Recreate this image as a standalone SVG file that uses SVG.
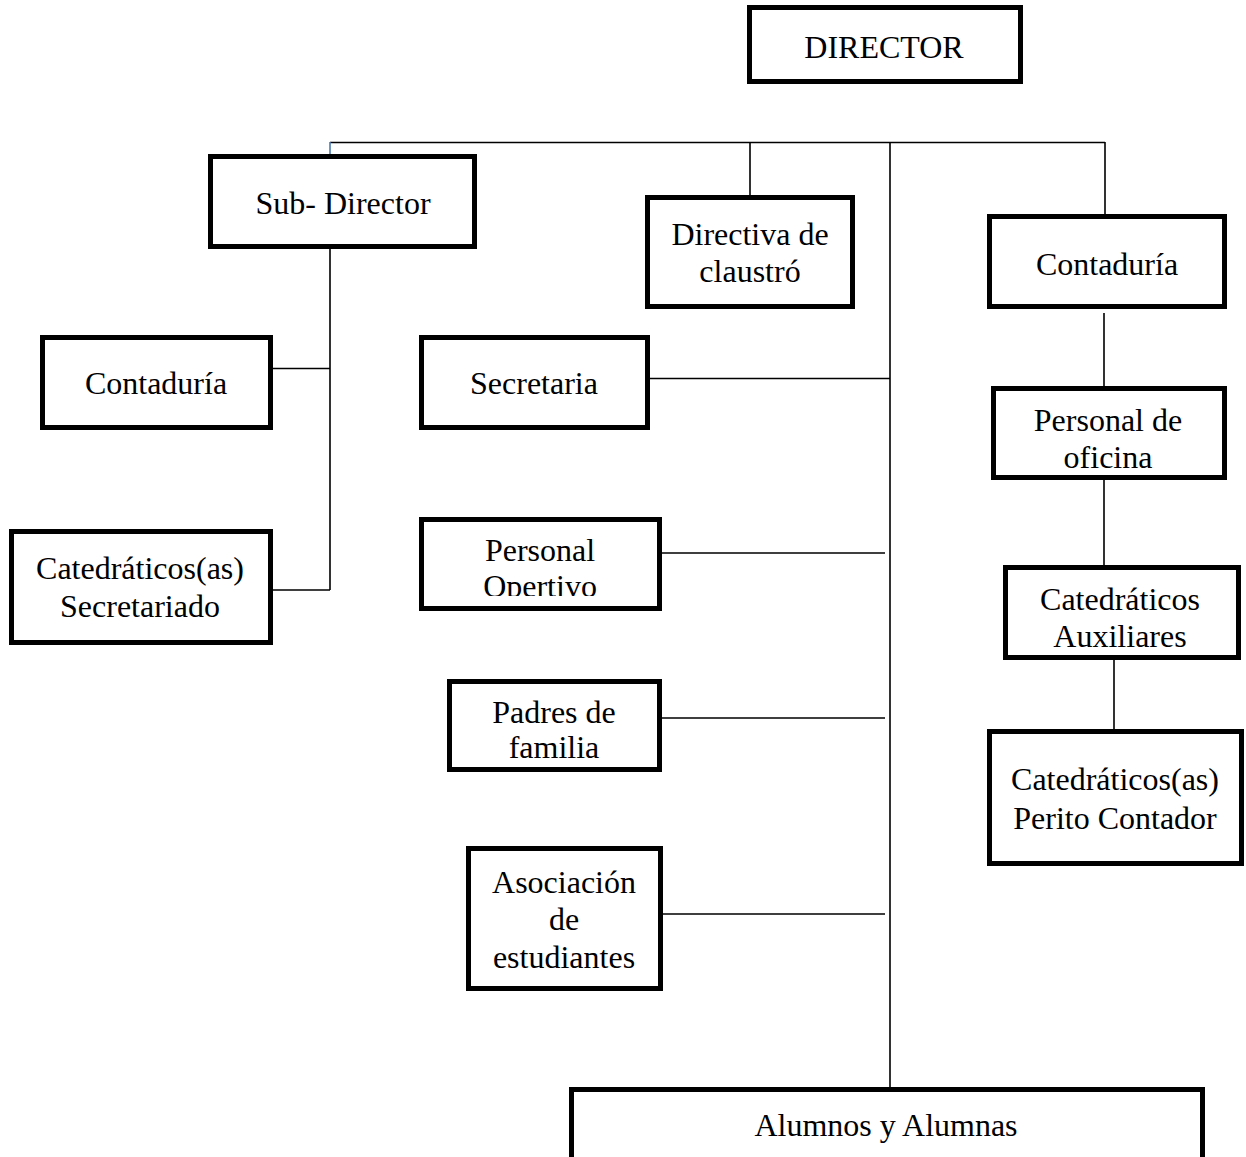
<svg xmlns="http://www.w3.org/2000/svg" width="1246" height="1157" viewBox="0 0 1246 1157">
<style>
.box{fill:#fff;stroke:#000;stroke-width:5}
.t{font-family:"Liberation Serif","Times New Roman",serif;font-size:32px;fill:#000;text-anchor:middle}
.ln{stroke:#000;stroke-width:1.6;fill:none}
</style>
<defs>
<clipPath id="clipOp"><rect x="400" y="500" width="300" height="96"/></clipPath>
</defs>
<rect width="1246" height="1157" fill="#fff"/>
<g id="connectors">
<path class="ln" d="M330 142.5H1105M750 142V197M890 142V1087M1105 142V215M330 247V590M272 368.5H330M272 590H330M648 378.5H890M660 553H885M660 718H885M661 914H885M1104 313V387M1104 480V566M1114 659V730"/>
<path d="M330 142V155" stroke="#4a7ab0" stroke-width="1.6"/>
</g>
<g id="director"><rect class="box" x="749.5" y="7.5" width="271" height="74"/><text class="t" x="884" y="58">DIRECTOR</text></g>
<g id="subdirector"><rect class="box" x="210.5" y="156.5" width="264" height="90"/><text class="t" x="343" y="214">Sub- Director</text></g>
<g id="directiva"><rect class="box" x="647.5" y="197.5" width="205" height="109"/><text class="t" x="750" y="245">Directiva de</text><text class="t" x="750" y="282">claustró</text></g>
<g id="contaduria-right"><rect class="box" x="989.5" y="216.5" width="235" height="90"/><text class="t" x="1107" y="275">Contaduría</text></g>
<g id="contaduria-left"><rect class="box" x="42.5" y="337.5" width="228" height="90"/><text class="t" x="156" y="394">Contaduría</text></g>
<g id="secretaria"><rect class="box" x="421.5" y="337.5" width="226" height="90"/><text class="t" x="534" y="394">Secretaria</text></g>
<g id="personal-oficina"><rect class="box" x="993.5" y="388.5" width="231" height="89"/><text class="t" x="1108" y="431">Personal de</text><text class="t" x="1108" y="468">oficina</text></g>
<g id="personal-opertivo"><rect class="box" x="421.5" y="519.5" width="238" height="89"/><text class="t" x="540" y="561">Personal</text><text class="t" x="540" y="597" clip-path="url(#clipOp)">Opertivo</text></g>
<g id="catedraticos-secretariado"><rect class="box" x="11.5" y="531.5" width="259" height="111"/><text class="t" x="140" y="579">Catedráticos(as)</text><text class="t" x="140" y="617">Secretariado</text></g>
<g id="catedraticos-auxiliares"><rect class="box" x="1005.5" y="567.5" width="233" height="90"/><text class="t" x="1120" y="610">Catedráticos</text><text class="t" x="1120" y="647">Auxiliares</text></g>
<g id="padres"><rect class="box" x="449.5" y="681.5" width="210" height="88"/><text class="t" x="554" y="723">Padres de</text><text class="t" x="554" y="758">familia</text></g>
<g id="catedraticos-perito"><rect class="box" x="989.5" y="731.5" width="252" height="132"/><text class="t" x="1115" y="790">Catedráticos(as)</text><text class="t" x="1115" y="829">Perito Contador</text></g>
<g id="asociacion"><rect class="box" x="468.5" y="848.5" width="192" height="140"/><text class="t" x="564" y="893">Asociación</text><text class="t" x="564" y="930">de</text><text class="t" x="564" y="968">estudiantes</text></g>
<g id="alumnos"><rect class="box" x="571.5" y="1089.5" width="631" height="90"/><text class="t" x="886" y="1136">Alumnos y Alumnas</text></g>
</svg>
